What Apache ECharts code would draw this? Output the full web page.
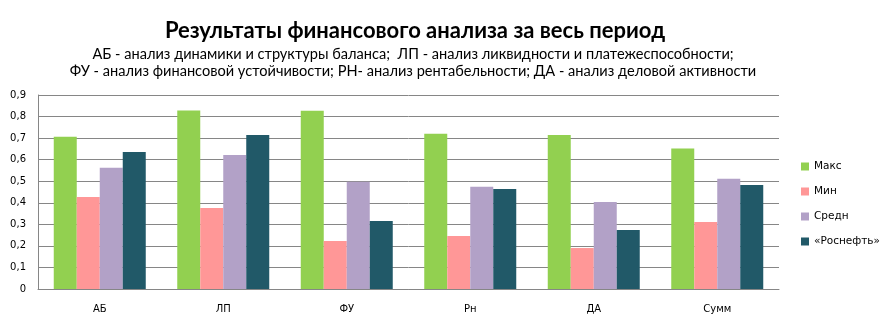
<!DOCTYPE html>
<html><head><meta charset="utf-8">
<script src="https://cdn.jsdelivr.net/npm/echarts@6/dist/echarts.min.js"></script>
<style>html,body{margin:0;padding:0;background:#fff}#c{width:892px;height:323px}</style>
</head><body><div id="c"></div>
<script>
const categories = ['АБ', 'ЛП', 'ФУ', 'Рн', 'ДА', 'Сумм'];
const seriesNames = ['Макс', 'Мин', 'Средн', '«Роснефть»'];
const maxValues = [0.706, 0.828, 0.827, 0.720, 0.715, 0.652];
const minValues = [0.427, 0.376, 0.223, 0.246, 0.190, 0.311];
const avgValues = [0.563, 0.622, 0.498, 0.474, 0.404, 0.511];
const rosneftValues = [0.636, 0.715, 0.316, 0.464, 0.274, 0.483];
const yTicks = [0, 0.1, 0.2, 0.3, 0.4, 0.5, 0.6, 0.7, 0.8, 0.9];
const titleText = 'Результаты финансового анализа за весь период';
const subtitleText = 'АБ - анализ динамики и структуры баланса;  ЛП - анализ ликвидности и платежеспособности;\nФУ - анализ финансовой устойчивости; РН- анализ рентабельности; ДА - анализ деловой активности';

const colors = ['#92D050', '#FF9797', '#B2A1C7', '#215968'];
const allValues = [maxValues, minValues, avgValues, rosneftValues];

const chart = echarts.init(document.getElementById('c'), null, {renderer: 'canvas'});
chart.setOption({
  animation: false,
  backgroundColor: '#fff',
  title: [{
    text: titleText,
    left: 415, top: 20, textAlign: 'center', padding: 0,
    textStyle: {fontFamily: 'Lato', fontWeight: 'bold', fontSize: 22, color: '#000'}
  }, {
    text: subtitleText,
    left: 413, top: 46, textAlign: 'center', padding: 0,
    textStyle: {fontFamily: 'Lato', fontWeight: 'normal', fontSize: 14.6, lineHeight: 17, color: '#000', align: 'center'}
  }],
  legend: {
    orient: 'vertical',
    left: 801, top: 161, padding: 0,
    itemWidth: 8, itemHeight: 8, itemGap: 14,
    icon: 'rect',
    textStyle: {fontFamily: 'DejaVu Sans', fontSize: 10.5, color: '#000', lineHeight: 10},
    data: seriesNames
  },
  grid: {left: 38, right: 113, top: 95, bottom: 34, containLabel: false},
  xAxis: {
    type: 'category',
    data: categories,
    axisLine: {lineStyle: {color: '#868686', width: 1}},
    axisTick: {show: false},
    axisLabel: {fontFamily: 'DejaVu Sans', fontSize: 10, color: '#000', margin: 15}
  },
  yAxis: {
    type: 'value',
    min: 0, max: 0.9, interval: 0.1,
    axisLine: {show: true, lineStyle: {color: '#868686', width: 1}},
    axisTick: {show: false},
    splitLine: {lineStyle: {color: '#868686', width: 1}},
    axisLabel: {fontFamily: 'DejaVu Sans', fontSize: 10, color: '#000', margin: 12,
      formatter: v => { const t = yTicks.find(x => Math.abs(x - v) < 1e-6); return (t === undefined ? v : t).toString().replace('.', ','); }}
  },
  series: seriesNames.map((n, i) => ({
    name: n, type: 'bar', data: allValues[i], barWidth: 23, barGap: '0%',
    itemStyle: {color: colors[i]}
  }))
});
</script></body></html>
